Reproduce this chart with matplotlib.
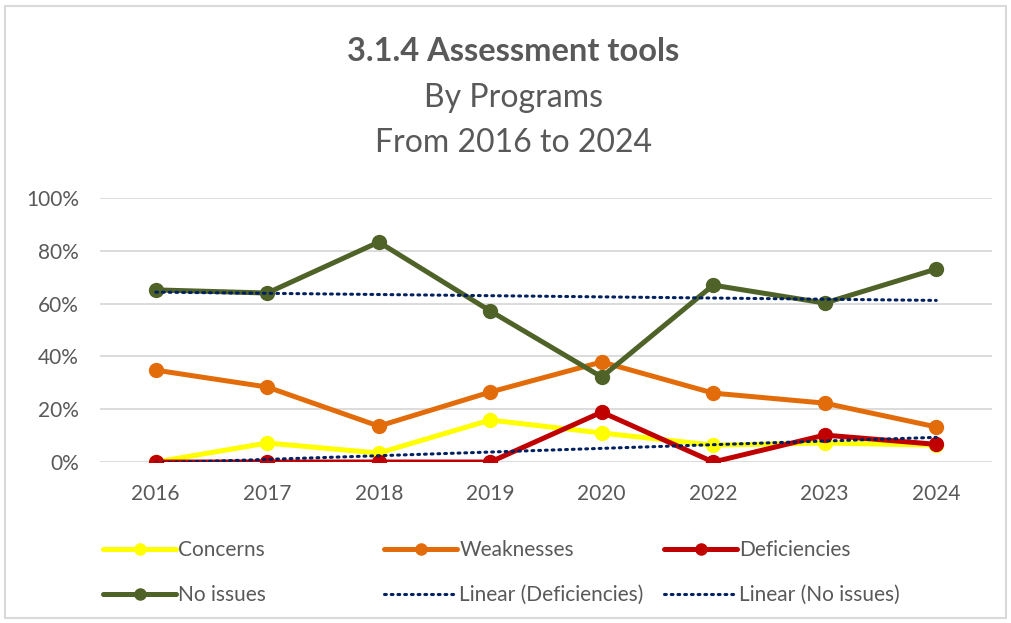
import matplotlib
matplotlib.use("Agg")
import matplotlib.pyplot as plt
from matplotlib.patches import Rectangle
from matplotlib.ticker import PercentFormatter
import numpy as np

plt.rcParams['font.family'] = ['Lato', 'DejaVu Sans']

years = ["2016", "2017", "2018", "2019", "2020", "2022", "2023", "2024"]
concerns = [0.0, 7.2, 3.4, 15.9, 11.0, 6.4, 7.2, 6.4]
weaknesses = [34.8, 28.4, 13.6, 26.5, 37.9, 26.1, 22.3, 13.3]
deficiencies = [0.0, 0.0, 0.0, 0.0, 18.9, 0.0, 10.2, 6.7]
no_issues = [65.2, 64.0, 83.3, 57.2, 32.2, 67.0, 60.2, 73.1]

c_conc = "#FFFF00"
c_weak = "#E36C0A"
c_def = "#C00000"
c_no = "#4F6228"
c_trend = "#002060"
txt = "#595959"

fig = plt.figure(figsize=(10.11, 6.23), dpi=100)
fig.patches.append(Rectangle((0.005, 0.008), 0.99, 0.982, transform=fig.transFigure,
                             fill=False, edgecolor="#D9D9D9", linewidth=1.5))
ax = fig.add_axes([0.0989, 0.2584, 0.8823, 0.4238])

x = np.arange(len(years))
series = [(concerns, c_conc, "Concerns"), (weaknesses, c_weak, "Weaknesses"),
          (deficiencies, c_def, "Deficiencies"), (no_issues, c_no, "No issues")]
handles = {}
for vals, col, name in series:
    h, = ax.plot(x, np.array(vals) / 100, color=col, lw=3.6, marker="o", ms=10,
                 solid_capstyle="round", label=name, zorder=3)
    handles[name] = h

# linear trendlines like a spreadsheet: fit over category index
for vals, name in [(deficiencies, "Linear (Deficiencies)"), (no_issues, "Linear (No issues)")]:
    k, b = np.polyfit(x, np.array(vals) / 100, 1)
    h, = ax.plot(x, k * x + b, color=c_trend, lw=2.2, ls=(0, (0.6, 1.6)),
                 dash_capstyle="round", zorder=4, label=name)
    handles[name] = h

ax.set_xlim(-0.5, len(years) - 0.5)
ax.set_ylim(0, 1)
ax.set_yticks(np.linspace(0, 1, 6))
ax.yaxis.set_major_formatter(PercentFormatter(1.0, decimals=0))
ax.set_xticks(x)
ax.set_xticklabels(years)
ax.grid(axis="y", color="#D9D9D9", lw=1.3)
ax.set_axisbelow(True)
for s in ax.spines.values():
    s.set_visible(False)
ax.tick_params(length=0, labelsize=15, colors=txt)
ax.tick_params(axis="x", pad=16)
ax.tick_params(axis="y", pad=15)

fig.text(0.508, 0.918, "3.1.4 Assessment tools", ha="center", va="center",
         fontsize=23.5, fontweight="bold", color=txt)
fig.text(0.508, 0.842, "By Programs", ha="center", va="center", fontsize=23, color=txt)
fig.text(0.508, 0.770, "From 2016 to 2024", ha="center", va="center", fontsize=23, color=txt)

columns = [["Concerns", "No issues"],
           ["Weaknesses", "Linear (Deficiencies)"],
           ["Deficiencies", "Linear (No issues)"]]
col_x = [0.102, 0.380, 0.657]
for names, cx in zip(columns, col_x):
    fig.legend([handles[n] for n in names], names, loc="upper left",
               bbox_to_anchor=(cx, 0.133), bbox_transform=fig.transFigure,
               frameon=False, fontsize=15, labelcolor=txt, handlelength=3.5,
               handletextpad=0.1, labelspacing=1.2, borderpad=0, borderaxespad=0,
               markerscale=0.8)

fig.savefig("out.png", dpi=100)
